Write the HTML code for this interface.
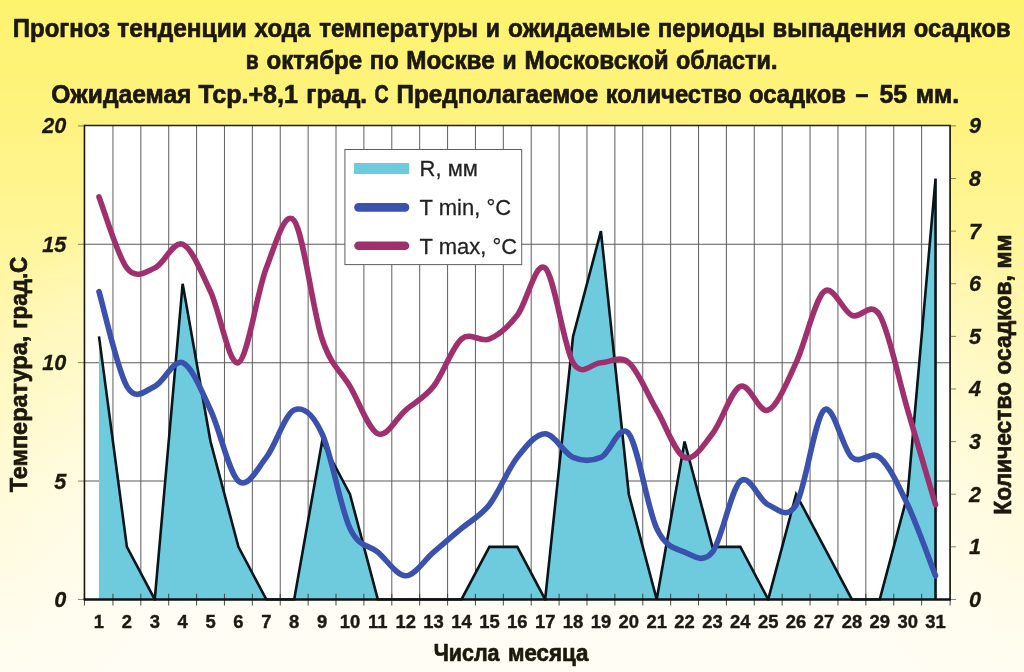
<!DOCTYPE html>
<html lang="ru"><head><meta charset="utf-8"><title>Прогноз тенденции хода температуры</title>
<style>html,body{margin:0;padding:0;background:#fffdf0;}body{width:1024px;height:672px;overflow:hidden;font-family:"Liberation Sans",sans-serif;}svg{display:block;}.t{font-family:"Liberation Sans",sans-serif;font-weight:bold;fill:#1c180c;stroke:#1c180c;stroke-width:0.7px;stroke-linejoin:round;}.d{font-family:"Liberation Sans",sans-serif;font-weight:bold;fill:#1c1a14;stroke:#1c1a14;stroke-width:0.4px;stroke-linejoin:round;}.ax{font-family:"Liberation Sans",sans-serif;font-weight:bold;font-style:italic;fill:#1c180c;stroke:#1c180c;stroke-width:0.3px;}.lg{font-family:"Liberation Sans",sans-serif;fill:#222;stroke:#222;stroke-width:0.25px;}</style></head><body>
<svg width="1024" height="672" viewBox="0 0 1024 672">
<defs>
<linearGradient id="bg" gradientUnits="userSpaceOnUse" x1="0" y1="0" x2="0" y2="672"><stop offset="0" stop-color="#fef36d"/><stop offset="0.18" stop-color="#fef37f"/><stop offset="0.33" stop-color="#fff596"/><stop offset="0.43" stop-color="#fff6a6"/><stop offset="0.6" stop-color="#fff7b1"/><stop offset="0.83" stop-color="#fff9cb"/><stop offset="0.92" stop-color="#fffbe0"/><stop offset="1" stop-color="#fffcee"/></linearGradient>
<radialGradient id="glow" cx="0" cy="0" r="1" gradientUnits="userSpaceOnUse" gradientTransform="translate(512 640) scale(720 516)"><stop offset="0" stop-color="#fffdf4" stop-opacity="1"/><stop offset="0.5" stop-color="#fffdf4" stop-opacity="1"/><stop offset="1" stop-color="#fffdf4" stop-opacity="0"/></radialGradient>
<clipPath id="pc"><rect x="84.45" y="122.9" width="865.65" height="477.8"/></clipPath>
</defs>
<rect width="1024" height="672" fill="url(#bg)"/>
<rect width="1024" height="672" fill="url(#glow)"/>
<rect x="84.45" y="125.9" width="865.65" height="473.55" fill="#ffffff"/>
<path d="M112.94,125.9V599.45M140.82,125.9V599.45M168.7,125.9V599.45M196.59,125.9V599.45M224.48,125.9V599.45M252.36,125.9V599.45M280.25,125.9V599.45M308.13,125.9V599.45M336.01,125.9V599.45M363.9,125.9V599.45M391.79,125.9V599.45M419.67,125.9V599.45M447.56,125.9V599.45M475.44,125.9V599.45M503.33,125.9V599.45M531.21,125.9V599.45M559.1,125.9V599.45M586.98,125.9V599.45M614.87,125.9V599.45M642.75,125.9V599.45M670.63,125.9V599.45M698.52,125.9V599.45M726.4,125.9V599.45M754.29,125.9V599.45M782.17,125.9V599.45M810.06,125.9V599.45M837.95,125.9V599.45M865.83,125.9V599.45M893.72,125.9V599.45M921.6,125.9V599.45" stroke="#666" stroke-width="1.05" fill="none"/>
<path d="M84.45,481.06H950.1M84.45,362.68H950.1M84.45,244.29H950.1" stroke="#5a5a5a" stroke-width="1.05" fill="none"/>
<path d="M98.99,336.37L126.88,546.83L154.76,599.45L182.65,283.75L210.53,441.6L238.42,546.83L266.3,599.45L294.19,599.45L322.07,441.6L349.96,494.22L377.84,599.45L405.73,599.45L433.61,599.45L461.5,599.45L489.38,546.83L517.27,546.83L545.15,599.45L573.04,336.37L600.92,231.13L628.81,494.22L656.69,599.45L684.58,441.6L712.46,546.83L740.35,546.83L768.23,599.45L796.12,494.22L824,546.83L851.89,599.45L879.77,599.45L907.66,494.22L935.54,178.52L935.54,599.45L98.99,599.45Z" fill="#6ecbde"/>
<path d="M98.99,336.37L126.88,546.83L154.76,599.45L182.65,283.75L210.53,441.6L238.42,546.83L266.3,599.45L294.19,599.45L322.07,441.6L349.96,494.22L377.84,599.45L405.73,599.45L433.61,599.45L461.5,599.45L489.38,546.83L517.27,546.83L545.15,599.45L573.04,336.37L600.92,231.13L628.81,494.22L656.69,599.45L684.58,441.6L712.46,546.83L740.35,546.83L768.23,599.45L796.12,494.22L824,546.83L851.89,599.45L879.77,599.45L907.66,494.22L935.54,178.52L935.54,599.45" fill="none" stroke="#06161a" stroke-width="2.6" stroke-linejoin="miter" stroke-miterlimit="4" clip-path="url(#pc)"/>
<path d="M84.45,125.55H951" stroke="#1e1a0c" stroke-width="1.4" fill="none"/>
<path d="M950.1,125.9V599.45" stroke="#2a2614" stroke-width="1.8" fill="none"/>
<path d="M84.45,593.85V605.55M112.94,593.85V605.55M140.82,593.85V605.55M168.7,593.85V605.55M196.59,593.85V605.55M224.48,593.85V605.55M252.36,593.85V605.55M280.25,593.85V605.55M308.13,593.85V605.55M336.01,593.85V605.55M363.9,593.85V605.55M391.79,593.85V605.55M419.67,593.85V605.55M447.56,593.85V605.55M475.44,593.85V605.55M503.33,593.85V605.55M531.21,593.85V605.55M559.1,593.85V605.55M586.98,593.85V605.55M614.87,593.85V605.55M642.75,593.85V605.55M670.63,593.85V605.55M698.52,593.85V605.55M726.4,593.85V605.55M754.29,593.85V605.55M782.17,593.85V605.55M810.06,593.85V605.55M837.95,593.85V605.55M865.83,593.85V605.55M893.72,593.85V605.55M921.6,593.85V605.55M950.1,593.85V605.55" stroke="#3c3c38" stroke-width="1.1" stroke-opacity="0.85" fill="none"/>
<path d="M77.95,599.45H84.45M77.95,481.06H84.45M77.95,362.68H84.45M77.95,244.29H84.45M77.95,125.9H84.45M950.1,599.45H956.1M950.1,546.83H956.1M950.1,494.22H956.1M950.1,441.6H956.1M950.1,388.98H956.1M950.1,336.37H956.1M950.1,283.75H956.1M950.1,231.13H956.1M950.1,178.52H956.1M950.1,125.9H956.1" stroke="#3a3518" stroke-width="1" stroke-opacity="0.6" fill="none"/>
<path d="M84.45,124.85V599.45" stroke="#1a1608" stroke-width="1.6" fill="none"/>
<path d="M83.65,599.45H951" stroke="#111" stroke-width="2.5" fill="none"/>
<path d="M98.99,291.64C103.64,307.43 117.58,370.57 126.88,386.35C136.17,402.14 145.47,390.3 154.76,386.35C164.06,382.41 173.35,358.73 182.65,362.68C191.94,366.62 201.24,390.3 210.53,410.03C219.83,429.76 229.12,473.17 238.42,481.06C247.71,488.95 257.01,469.22 266.3,457.39C275.6,445.55 284.89,413.98 294.19,410.03C303.48,406.08 312.78,413.98 322.07,433.71C331.37,453.44 340.66,508.69 349.96,528.42C359.25,548.15 368.55,544.2 377.84,552.1C387.14,559.99 396.43,575.77 405.73,575.77C415.02,575.77 424.32,559.99 433.61,552.1C442.91,544.2 452.2,536.31 461.5,528.42C470.79,520.52 480.09,516.58 489.38,504.74C498.68,492.9 507.97,469.22 517.27,457.39C526.56,445.55 535.86,433.71 545.15,433.71C554.45,433.71 563.74,453.44 573.04,457.39C582.33,461.33 591.63,461.33 600.92,457.39C610.22,453.44 619.51,421.87 628.81,433.71C638.1,445.55 647.4,508.69 656.69,528.42C665.99,548.15 675.28,548.15 684.58,552.1C693.87,556.04 703.17,563.93 712.46,552.1C721.76,540.26 731.05,488.95 740.35,481.06C749.64,473.17 758.94,500.79 768.23,504.74C777.53,508.69 786.82,520.52 796.12,504.74C805.41,488.96 814.71,417.92 824,410.03C833.3,402.14 842.59,449.49 851.89,457.39C861.18,465.28 870.48,449.49 879.77,457.39C889.07,465.28 898.36,485.01 907.66,504.74C916.95,524.47 930.89,563.93 935.54,575.77" fill="none" stroke="#3a51ad" stroke-width="5.6" stroke-linecap="round" stroke-linejoin="round"/>
<path d="M98.99,196.93C103.64,208.77 117.58,256.13 126.88,267.97C136.17,279.8 145.47,271.91 154.76,267.97C164.06,264.02 173.35,240.34 182.65,244.29C191.94,248.23 201.24,271.91 210.53,291.64C219.83,311.37 229.12,366.62 238.42,362.68C247.71,358.73 257.01,291.64 266.3,267.97C275.6,244.29 284.89,208.77 294.19,220.61C303.48,232.45 312.78,311.37 322.07,339C331.37,366.62 340.66,370.57 349.96,386.35C359.25,402.14 368.55,429.76 377.84,433.71C387.14,437.65 396.43,417.92 405.73,410.03C415.02,402.14 424.32,398.19 433.61,386.35C442.91,374.51 452.2,346.89 461.5,339C470.79,331.11 480.09,342.94 489.38,339C498.68,335.05 507.97,327.16 517.27,315.32C526.56,303.48 535.86,260.07 545.15,267.97C554.45,275.86 563.74,346.89 573.04,362.68C582.33,378.46 591.63,362.68 600.92,362.68C610.22,362.68 619.51,354.78 628.81,362.68C638.1,370.57 647.4,394.25 656.69,410.03C665.99,425.82 675.28,453.44 684.58,457.39C693.87,461.33 703.17,445.55 712.46,433.71C721.76,421.87 731.05,390.3 740.35,386.35C749.64,382.41 758.94,413.98 768.23,410.03C777.53,406.08 786.82,382.41 796.12,362.68C805.41,342.94 814.71,299.54 824,291.64C833.3,283.75 842.59,311.37 851.89,315.32C861.18,319.27 870.48,299.54 879.77,315.32C889.07,331.11 898.36,378.46 907.66,410.03C916.95,441.6 930.89,488.96 935.54,504.74" fill="none" stroke="#a0306d" stroke-width="5.6" stroke-linecap="round" stroke-linejoin="round"/>
<rect x="344.9" y="149.5" width="176.8" height="115.1" fill="#fff" stroke="#5e5e5e" stroke-width="1"/>
<rect x="354" y="163" width="55.2" height="11" fill="#6ecbde"/>
<path d="M358.5,207.4H405" stroke="#3a51ad" stroke-width="8.6" stroke-linecap="round"/>
<path d="M358.5,245.7H405" stroke="#a0306d" stroke-width="8.6" stroke-linecap="round"/>
<text class="lg" transform="translate(419.6 176.2) scale(1 1.045)" font-size="22">R, мм</text>
<text class="lg" transform="translate(419.6 214.9) scale(1 1.045)" font-size="22">T min, °C</text>
<text class="lg" transform="translate(419.6 253.5) scale(1 1.045)" font-size="22">T max, °C</text>
<text class="ax" transform="translate(66.3 606.9) scale(0.985 1.045)" font-size="22" text-anchor="end">0</text>
<text class="ax" transform="translate(66.3 488.51) scale(0.985 1.045)" font-size="22" text-anchor="end">5</text>
<text class="ax" transform="translate(66.3 370.12) scale(0.985 1.045)" font-size="22" text-anchor="end">10</text>
<text class="ax" transform="translate(66.3 251.74) scale(0.985 1.045)" font-size="22" text-anchor="end">15</text>
<text class="ax" transform="translate(66.3 133.35) scale(0.985 1.045)" font-size="22" text-anchor="end">20</text>
<text class="ax" transform="translate(969.0 606.9) scale(0.985 1.045)" font-size="22">0</text>
<text class="ax" transform="translate(969.0 554.28) scale(0.985 1.045)" font-size="22">1</text>
<text class="ax" transform="translate(969.0 501.67) scale(0.985 1.045)" font-size="22">2</text>
<text class="ax" transform="translate(969.0 449.05) scale(0.985 1.045)" font-size="22">3</text>
<text class="ax" transform="translate(969.0 396.43) scale(0.985 1.045)" font-size="22">4</text>
<text class="ax" transform="translate(969.0 343.82) scale(0.985 1.045)" font-size="22">5</text>
<text class="ax" transform="translate(969.0 291.2) scale(0.985 1.045)" font-size="22">6</text>
<text class="ax" transform="translate(969.0 238.58) scale(0.985 1.045)" font-size="22">7</text>
<text class="ax" transform="translate(969.0 185.97) scale(0.985 1.045)" font-size="22">8</text>
<text class="ax" transform="translate(969.0 133.35) scale(0.985 1.045)" font-size="22">9</text>
<text class="d" transform="translate(98.99 628.4) scale(0.97 1)" font-size="19" text-anchor="middle">1</text>
<text class="d" transform="translate(126.88 628.4) scale(0.97 1)" font-size="19" text-anchor="middle">2</text>
<text class="d" transform="translate(154.76 628.4) scale(0.97 1)" font-size="19" text-anchor="middle">3</text>
<text class="d" transform="translate(182.65 628.4) scale(0.97 1)" font-size="19" text-anchor="middle">4</text>
<text class="d" transform="translate(210.53 628.4) scale(0.97 1)" font-size="19" text-anchor="middle">5</text>
<text class="d" transform="translate(238.42 628.4) scale(0.97 1)" font-size="19" text-anchor="middle">6</text>
<text class="d" transform="translate(266.3 628.4) scale(0.97 1)" font-size="19" text-anchor="middle">7</text>
<text class="d" transform="translate(294.19 628.4) scale(0.97 1)" font-size="19" text-anchor="middle">8</text>
<text class="d" transform="translate(322.07 628.4) scale(0.97 1)" font-size="19" text-anchor="middle">9</text>
<text class="d" transform="translate(349.96 628.4) scale(0.97 1)" font-size="19" text-anchor="middle">10</text>
<text class="d" transform="translate(377.84 628.4) scale(0.97 1)" font-size="19" text-anchor="middle">11</text>
<text class="d" transform="translate(405.73 628.4) scale(0.97 1)" font-size="19" text-anchor="middle">12</text>
<text class="d" transform="translate(433.61 628.4) scale(0.97 1)" font-size="19" text-anchor="middle">13</text>
<text class="d" transform="translate(461.5 628.4) scale(0.97 1)" font-size="19" text-anchor="middle">14</text>
<text class="d" transform="translate(489.38 628.4) scale(0.97 1)" font-size="19" text-anchor="middle">15</text>
<text class="d" transform="translate(517.27 628.4) scale(0.97 1)" font-size="19" text-anchor="middle">16</text>
<text class="d" transform="translate(545.15 628.4) scale(0.97 1)" font-size="19" text-anchor="middle">17</text>
<text class="d" transform="translate(573.04 628.4) scale(0.97 1)" font-size="19" text-anchor="middle">18</text>
<text class="d" transform="translate(600.92 628.4) scale(0.97 1)" font-size="19" text-anchor="middle">19</text>
<text class="d" transform="translate(628.81 628.4) scale(0.97 1)" font-size="19" text-anchor="middle">20</text>
<text class="d" transform="translate(656.69 628.4) scale(0.97 1)" font-size="19" text-anchor="middle">21</text>
<text class="d" transform="translate(684.58 628.4) scale(0.97 1)" font-size="19" text-anchor="middle">22</text>
<text class="d" transform="translate(712.46 628.4) scale(0.97 1)" font-size="19" text-anchor="middle">23</text>
<text class="d" transform="translate(740.35 628.4) scale(0.97 1)" font-size="19" text-anchor="middle">24</text>
<text class="d" transform="translate(768.23 628.4) scale(0.97 1)" font-size="19" text-anchor="middle">25</text>
<text class="d" transform="translate(796.12 628.4) scale(0.97 1)" font-size="19" text-anchor="middle">26</text>
<text class="d" transform="translate(824 628.4) scale(0.97 1)" font-size="19" text-anchor="middle">27</text>
<text class="d" transform="translate(851.89 628.4) scale(0.97 1)" font-size="19" text-anchor="middle">28</text>
<text class="d" transform="translate(879.77 628.4) scale(0.97 1)" font-size="19" text-anchor="middle">29</text>
<text class="d" transform="translate(907.66 628.4) scale(0.97 1)" font-size="19" text-anchor="middle">30</text>
<text class="d" transform="translate(935.54 628.4) scale(0.97 1)" font-size="19" text-anchor="middle">31</text>
<text class="t" y="36.6" font-size="25.4"><tspan x="12.85" textLength="97.15" lengthAdjust="spacingAndGlyphs">Прогноз</tspan> <tspan x="117.35" textLength="129.4" lengthAdjust="spacingAndGlyphs">тенденции</tspan> <tspan x="254.6" textLength="55.9" lengthAdjust="spacingAndGlyphs">хода</tspan> <tspan x="319.35" textLength="158.65" lengthAdjust="spacingAndGlyphs">температуры</tspan> <tspan x="485.85" textLength="14.15" lengthAdjust="spacingAndGlyphs">и</tspan> <tspan x="508.1" textLength="141.9" lengthAdjust="spacingAndGlyphs">ожидаемые</tspan> <tspan x="657.85" textLength="107.15" lengthAdjust="spacingAndGlyphs">периоды</tspan> <tspan x="772.6" textLength="133.4" lengthAdjust="spacingAndGlyphs">выпадения</tspan> <tspan x="913.85" textLength="96.65" lengthAdjust="spacingAndGlyphs">осадков</tspan></text>
<text class="t" y="69.4" font-size="25.4"><tspan x="245.8" textLength="12.9" lengthAdjust="spacingAndGlyphs">в</tspan> <tspan x="266.55" textLength="95.65" lengthAdjust="spacingAndGlyphs">октябре</tspan> <tspan x="369.8" textLength="28.9" lengthAdjust="spacingAndGlyphs">по</tspan> <tspan x="406.3" textLength="88.4" lengthAdjust="spacingAndGlyphs">Москве</tspan> <tspan x="502.55" textLength="14.15" lengthAdjust="spacingAndGlyphs">и</tspan> <tspan x="524.55" textLength="144.15" lengthAdjust="spacingAndGlyphs">Московской</tspan> <tspan x="676.05" textLength="101.4" lengthAdjust="spacingAndGlyphs">области.</tspan></text>
<text class="t" y="102.5" font-size="25.4"><tspan x="51.25" textLength="140.15" lengthAdjust="spacingAndGlyphs">Ожидаемая</tspan> <tspan x="198.5" textLength="99.4" lengthAdjust="spacingAndGlyphs">Тср.+8,1</tspan> <tspan x="306.25" textLength="60.9" lengthAdjust="spacingAndGlyphs">град.</tspan> <tspan x="374.5" textLength="14.15" lengthAdjust="spacingAndGlyphs">С</tspan> <tspan x="396.5" textLength="201.65" lengthAdjust="spacingAndGlyphs">Предполагаемое</tspan> <tspan x="605.75" textLength="135.9" lengthAdjust="spacingAndGlyphs">количество</tspan> <tspan x="749" textLength="96.9" lengthAdjust="spacingAndGlyphs">осадков</tspan> <tspan x="855.5" textLength="12.9" lengthAdjust="spacingAndGlyphs">–</tspan> <tspan x="879.5" textLength="27.65" lengthAdjust="spacingAndGlyphs">55</tspan> <tspan x="915.75" textLength="43.4" lengthAdjust="spacingAndGlyphs">мм.</tspan></text>
<text class="t" y="661.2" font-size="24.2"><tspan x="433.65" textLength="65.9" lengthAdjust="spacingAndGlyphs">Числа</tspan> <tspan x="507.9" textLength="80.4" lengthAdjust="spacingAndGlyphs">месяца</tspan></text>
<text class="t" transform="translate(27.2 492.4) rotate(-90)" font-size="24.2"><tspan x="0.05" textLength="156.65" lengthAdjust="spacingAndGlyphs">Температура,</tspan> <tspan x="163.55" textLength="72.15" lengthAdjust="spacingAndGlyphs">град.С</tspan></text>
<text class="t" transform="translate(1011 513.6) rotate(-90)" font-size="24.2"><tspan x="-1.2" textLength="132.9" lengthAdjust="spacingAndGlyphs">Количество</tspan> <tspan x="138.8" textLength="99.65" lengthAdjust="spacingAndGlyphs">осадков,</tspan> <tspan x="245.05" textLength="34.15" lengthAdjust="spacingAndGlyphs">мм</tspan></text>
</svg></body></html>
